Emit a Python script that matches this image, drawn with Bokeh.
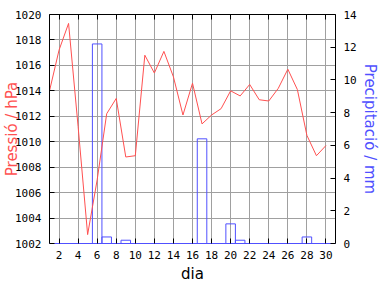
from bokeh.plotting import figure
from bokeh.models import Range1d, LinearAxis, FixedTicker
from bokeh.embed import file_html
from bokeh.resources import INLINE

days = list(range(1, 31))
pressure = [1014.0, 1017.2, 1019.3, 1011.2, 1002.7, 1007.0, 1012.2, 1013.4, 1008.8, 1008.9,
            1016.8, 1015.4, 1017.1, 1015.1, 1012.1, 1014.6, 1011.4, 1012.1, 1012.6, 1014.0,
            1013.6, 1014.5, 1013.3, 1013.2, 1014.2, 1015.7, 1014.1, 1010.5, 1008.9, 1009.7]
precip = [0, 0, 0, 0, 0, 12.2, 0.4, 0, 0.2, 0,
          0, 0, 0, 0, 0, 0, 6.4, 0, 0, 1.2,
          0.2, 0, 0, 0, 0, 0, 0, 0.4, 0, 0]
x_ticks = list(range(2, 31, 2))
p_ticks = list(range(1002, 1021, 2))
r_ticks = list(range(0, 15, 2))

RED = "#ff5050"
BLUE = "#5050ff"
GRID = "#a0a0a0"
MONO = "DejaVu Sans Mono"

p = figure(width=384, height=288, output_backend="svg", toolbar_location=None,
           x_range=Range1d(1, 31), y_range=Range1d(1002, 1020),
           min_border_left=49, min_border_right=49, min_border_top=14, min_border_bottom=45)
p.extra_y_ranges = {"precip": Range1d(0, 14)}
p.outline_line_color = None
p.background_fill_color = "white"
p.border_fill_color = "white"

p.vbar(x=days, top=precip, bottom=0, width=1, y_range_name="precip",
       fill_color=None, line_color=BLUE, line_width=1)
p.line(days, pressure, line_color=RED, line_width=1)

def style(ax, ticks, labels=True):
    ax.ticker = FixedTicker(ticks=ticks)
    ax.major_tick_in = 5
    ax.major_tick_out = 0
    ax.minor_tick_line_color = None
    ax.major_tick_line_color = "black"
    ax.axis_line_color = "black"
    ax.major_label_text_font = MONO
    ax.major_label_text_font_size = "11px"
    ax.major_label_text_color = "black" if labels else None
    ax.major_label_standoff = 8 if labels else 0

def title_style(ax, text, color, standoff):
    ax.axis_label = text
    ax.axis_label_text_font = "DejaVu Sans"
    ax.axis_label_text_font_size = "15px"
    ax.axis_label_text_font_style = "normal"
    ax.axis_label_text_color = color
    ax.axis_label_standoff = standoff

style(p.yaxis[0], p_ticks)
title_style(p.yaxis[0], "Pressió / hPa", RED, -9)

style(p.xaxis[0], x_ticks)
p.xaxis[0].major_label_standoff = 7
p.xaxis[0].axis_line_color = BLUE
title_style(p.xaxis[0], "dia", "black", 3)

right = LinearAxis(y_range_name="precip")
style(right, r_ticks)
title_style(right, "Precipitació / mm", BLUE, 1)
p.add_layout(right, "right")

top = LinearAxis()
style(top, x_ticks, labels=False)
p.add_layout(top, "above")

p.xgrid.ticker = FixedTicker(ticks=x_ticks)
p.ygrid.ticker = FixedTicker(ticks=p_ticks)
p.xgrid.grid_line_color = GRID
p.ygrid.grid_line_color = GRID

open("out.html", "w").write(file_html(p, INLINE))
